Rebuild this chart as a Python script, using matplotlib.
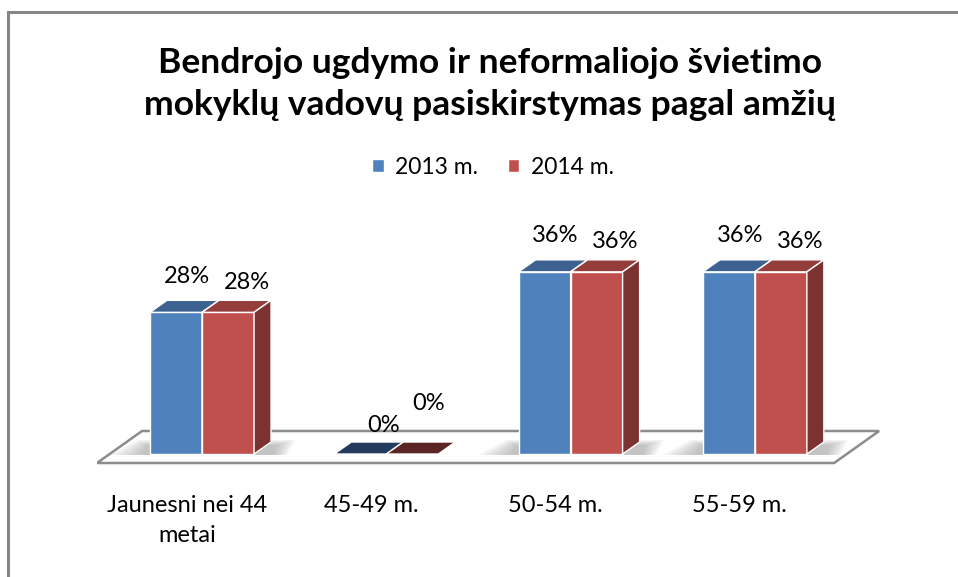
import matplotlib
matplotlib.use("Agg")
import matplotlib.pyplot as plt
from matplotlib.patches import Polygon
from matplotlib.lines import Line2D

# ---------------- data ----------------
categories = ["Jaunesni nei 44\nmetai", "45-49 m.", "50-54 m.", "55-59 m."]
series_names = ["2013 m.", "2014 m."]
values_2013 = [28, 0, 36, 36]
values_2014 = [28, 0, 36, 36]
title = "Bendrojo ugdymo ir neformaliojo švietimo\nmokyklų vadovų pasiskirstymas pagal amžių"

# ---------------- style ----------------
FONT = "Lato"
front_cols = ["#4F81BD", "#C0504D"]
top_cols = ["#3D6291", "#953D3A"]
zero_cols = ["#253B5E", "#5C2424"]
side_cols = ["#3A5F8E", "#7C3230"]

W, H = 958, 577
fig = plt.figure(figsize=(W / 100, H / 100), dpi=100)
fig.patch.set_facecolor("white")

px_left, px_right = 97, 880
px_bottom, px_top = 470, 200
ax = fig.add_axes([px_left / W, (H - px_bottom) / H,
                   (px_right - px_left) / W, (px_bottom - px_top) / H])
xlim = (-0.570, 3.679)
ylim = (-3.16, 50.2)
ax.set_xlim(xlim)
ax.set_ylim(ylim)
ax.axis("off")

sx = (px_right - px_left) / (xlim[1] - xlim[0])   # px per x unit
sy = (px_bottom - px_top) / (ylim[1] - ylim[0])   # px per y unit
w = 52 / sx
ddx, ddy = 17 / sx, 12 / sy

# ---------------- floor ----------------
n = len(categories)
f_front_y = -9 / sy
f_back_y = 23 / sy
f_left = xlim[0]
f_right = (n - 1) + 0.43
f_dx = 45 / sx
floor = Polygon([(f_left, f_front_y), (f_right, f_front_y),
                 (f_right + f_dx, f_back_y), (f_left + f_dx, f_back_y)],
                closed=True, facecolor="white", edgecolor="#8C8C8C",
                linewidth=1.8, zorder=1)
ax.add_patch(floor)

# soft shadows on the floor
for i in range(n):
    h = max(values_2013[i], values_2014[i])
    if h <= 0:
        continue
    for k in range(6):
        ext = (40 - k * 6) / sx
        sh = Polygon([(i - w - ext, -1 / sy), (i + w + ddx + ext * 0.4, -1 / sy),
                      (i + w + ddx + ext * 0.6, (14 - k) / sy), (i - w - ext * 0.3, (14 - k) / sy)],
                     closed=True, facecolor="#606060", edgecolor="none", alpha=0.07, zorder=2)
        ax.add_patch(sh)

# ---------------- bars ----------------
series_vals = [values_2013, values_2014]
x_pos = list(range(n))
containers = []
for s, vals in enumerate(series_vals):
    lefts = [x - w + s * w for x in x_pos]
    bc = ax.bar(lefts, vals, width=w, align="edge", color=front_cols[s],
                edgecolor="white", linewidth=1.0, zorder=3 + s * 2,
                label=series_names[s])
    containers.append(bc)
    for x0, v in zip(lefts, vals):
        tc = zero_cols[s] if v == 0 else top_cols[s]
        top = Polygon([(x0, v), (x0 + w, v), (x0 + w + ddx, v + ddy), (x0 + ddx, v + ddy)],
                      closed=True, facecolor=tc, edgecolor="white", linewidth=1.0,
                      zorder=3 + s * 2)
        ax.add_patch(top)
        if v > 0:
            side = Polygon([(x0 + w, 0), (x0 + w + ddx, ddy), (x0 + w + ddx, v + ddy), (x0 + w, v)],
                           closed=True, facecolor=side_cols[s], edgecolor="white",
                           linewidth=1.0, zorder=3 + s * 2)
            ax.add_patch(side)

# ---------------- value labels ----------------
label_off = [(11, 36), (19, 30)]
label_off_zero = [(23, 29), (16, 51)]
for s, vals in enumerate(series_vals):
    for x, v in zip(x_pos, vals):
        xc = x - w / 2 + s * w
        off = label_off_zero[s] if v == 0 else label_off[s]
        ax.annotate(f"{v}%", xy=(xc, v), xytext=off, textcoords="offset pixels",
                    ha="center", va="center", fontsize=17, family=FONT, color="#000000",
                    zorder=10)

# ---------------- category labels ----------------
for x, c in zip(x_pos, categories):
    ax.annotate(c, xy=(x, 0), xytext=(-15, -41), textcoords="offset pixels",
                ha="center", va="top", fontsize=17, family=FONT, color="#000000",
                linespacing=1.5, annotation_clip=False)

# ---------------- title ----------------
fig.text(490 / W, (H - 84) / H, title, ha="center", va="center", fontsize=25.5,
         fontweight="bold", family=FONT, linespacing=1.36, color="#000000")

# ---------------- legend ----------------
fig.legend(handles=containers, labels=series_names, loc="center",
           bbox_to_anchor=(493 / W, (H - 167) / H), ncol=2, frameon=False,
           prop={"family": FONT, "size": 16.5}, handlelength=0.5, handleheight=0.5,
           handletextpad=0.5, columnspacing=1.3)

# ---------------- chart frame ----------------
fig.add_artist(Line2D([8 / W, 8 / W], [0, (H - 12) / H], color="#868686", linewidth=2.2))
fig.add_artist(Line2D([8 / W, 1], [(H - 12) / H, (H - 12) / H], color="#868686", linewidth=2.2))

fig.savefig("out.png", dpi=100, facecolor="white")
